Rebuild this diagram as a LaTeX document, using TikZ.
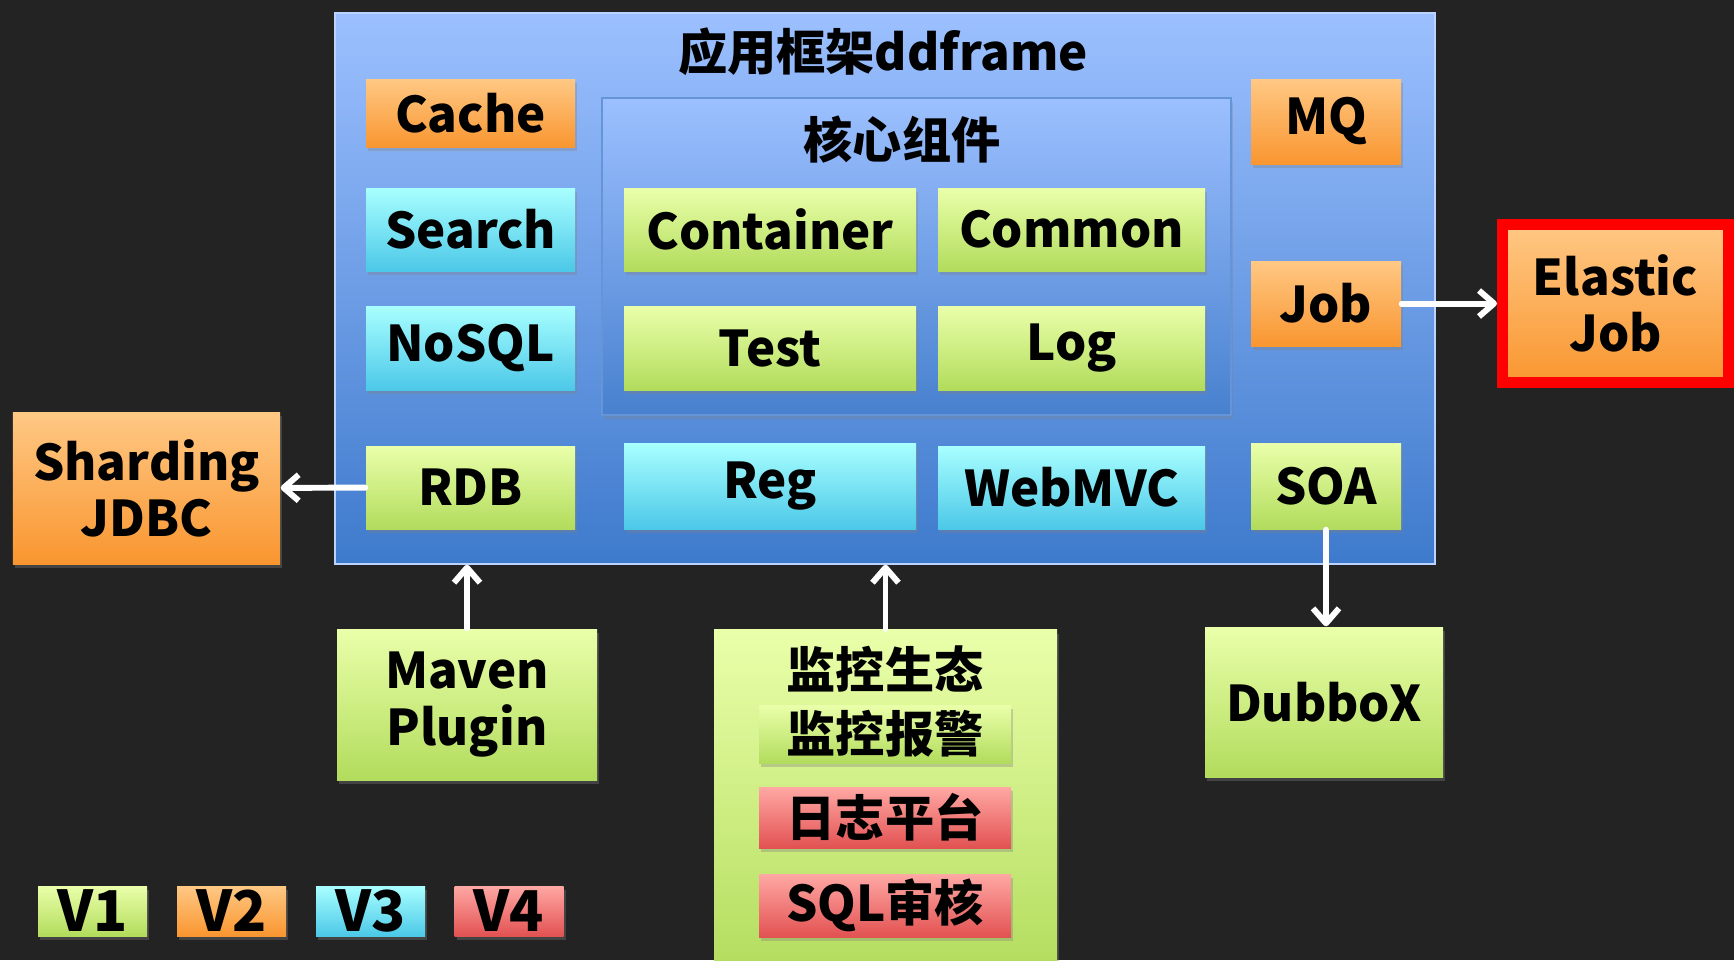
\documentclass[tikz,border=0pt]{standalone}
\usepackage{fontspec}
\setmainfont{Noto Sans CJK SC}
\usetikzlibrary{arrows.meta,shadows}
\definecolor{bgdark}{RGB}{35,35,35}
\definecolor{greentop}{RGB}{234,255,170}
\definecolor{greenbot}{RGB}{178,220,92}
\definecolor{orangetop}{RGB}{255,200,132}
\definecolor{orangebot}{RGB}{249,150,48}
\definecolor{cyantop}{RGB}{168,255,255}
\definecolor{cyanbot}{RGB}{76,200,232}
\definecolor{redtop}{RGB}{255,168,164}
\definecolor{redbot}{RGB}{226,82,82}
\definecolor{bluetop}{RGB}{156,192,255}
\definecolor{bluebot}{RGB}{62,122,204}

\begin{document}
\begin{tikzpicture}
  \tikzset{
    box/.style={rectangle, inner sep=0pt, align=center, text=black,
      font=\fontsize{14}{16}\selectfont\bfseries,
      drop shadow={opacity=0.35, shadow xshift=0.02, shadow yshift=-0.04}},
    v1/.style={box, top color=greentop, bottom color=greenbot},
    v2/.style={box, top color=orangetop, bottom color=orangebot},
    v3/.style={box, top color=cyantop, bottom color=cyanbot},
    v4/.style={box, top color=redtop, bottom color=redbot},
    flow/.style={draw=white, line width=1.7pt, line cap=round,
      -{Straight Barb[length=0.15cm, width=0.26cm, line join=round]}},
    title/.style={font=\fontsize{14}{16}\selectfont\bfseries},
    legend/.style={font=\fontsize{16}{18}\selectfont\bfseries, minimum width=1.09cm, minimum height=0.5cm}
  }

  \clip (0,0) rectangle (17.34,-9.6);
  \fill[bgdark] (0,0) rectangle (17.34,-9.6);

  % framework
  \node[rectangle, top color=bluetop, bottom color=bluebot, draw=bluetop!70!white, line width=0.4pt,
    minimum width=11cm, minimum height=5.51cm] (main) at (8.85,-2.885) {};
  \node[title] (maintitle) at (8.83,-0.52) {应用框架ddframe};

  % core
  \node[rectangle, top color=bluetop, bottom color=bluebot!95!white, draw=bluebot!80!white, line width=0.6pt,
    minimum width=6.29cm, minimum height=3.17cm,
    drop shadow={opacity=0.3, shadow xshift=0.02, shadow yshift=-0.04}] (core) at (9.165,-2.565) {};
  \node[title] (coretitle) at (9.02,-1.40) {核心组件};

  \node[v2, minimum width=2.09cm, minimum height=0.68cm] (cache) at (4.705,-1.13) {Cache};
  \node[v3, minimum width=2.09cm, minimum height=0.83cm] (search) at (4.705,-2.295) {Search};
  \node[v3, minimum width=2.09cm, minimum height=0.84cm] (nosql) at (4.705,-3.48) {NoSQL};
  \node[v1, minimum width=2.09cm, minimum height=0.83cm] (rdb) at (4.705,-4.875) {RDB};

  \node[v1, minimum width=2.92cm, minimum height=0.83cm] (container) at (7.70,-2.295) {Container};
  \node[v1, minimum width=2.67cm, minimum height=0.83cm] (common) at (10.715,-2.295) {Common};
  \node[v1, minimum width=2.92cm, minimum height=0.84cm] (test) at (7.70,-3.48) {Test};
  \node[v1, minimum width=2.67cm, minimum height=0.84cm] (log) at (10.715,-3.48) {Log};

  \node[v3, minimum width=2.92cm, minimum height=0.86cm] (reg) at (7.70,-4.86) {Reg};
  \node[v3, minimum width=2.67cm, minimum height=0.83cm] (webmvc) at (10.715,-4.875) {WebMVC};

  \node[v2, minimum width=1.50cm, minimum height=0.85cm] (mq) at (13.26,-1.215) {MQ};
  \node[v2, minimum width=1.50cm, minimum height=0.85cm] (job) at (13.26,-3.035) {Job};
  \node[v1, minimum width=1.50cm, minimum height=0.86cm] (soa) at (13.26,-4.86) {SOA};

  % outside
  \node[v2, draw=red, line width=0.11cm, minimum width=2.26cm, minimum height=1.58cm] (elastic) at (16.155,-3.035) {Elastic\\Job};
  \node[v2, minimum width=2.67cm, minimum height=1.52cm] (shard) at (1.465,-4.88) {Sharding\\JDBC};
  \node[v1, minimum width=2.60cm, minimum height=1.51cm] (maven) at (4.67,-7.045) {Maven\\Plugin};
  \node[v1, minimum width=2.38cm, minimum height=1.50cm] (dubbo) at (13.24,-7.02) {DubboX};

  % monitor
  \node[v1, minimum width=3.43cm, minimum height=3.5cm, anchor=north] (mon) at (8.855,-6.29) {};
  \node[title] (montitle) at (8.85,-6.69) {监控生态};
  \node[v1, minimum width=2.52cm, minimum height=0.58cm] (alarm) at (8.85,-7.34) {监控报警};
  \node[v4, minimum width=2.52cm, minimum height=0.61cm] (logplat) at (8.85,-8.175) {日志平台};
  \node[v4, minimum width=2.52cm, minimum height=0.63cm] (sqlaudit) at (8.85,-9.055) {SQL审核};

  % legend
  \node[v1, legend] (l1) at (0.925,-9.11) {V1};
  \node[v2, legend] (l2) at (2.315,-9.11) {V2};
  \node[v3, legend] (l3) at (3.705,-9.11) {V3};
  \node[v4, legend] (l4) at (5.09,-9.11) {V4};

  \draw[flow] (job) -- (elastic);
  \draw[flow] (rdb) -- (shard);
  \draw[flow] (maven) -- (maven |- main.south);
  \draw[flow] (mon) -- (mon |- main.south);
  \draw[flow] (soa) -- (soa |- dubbo.north);
\end{tikzpicture}
\end{document}
